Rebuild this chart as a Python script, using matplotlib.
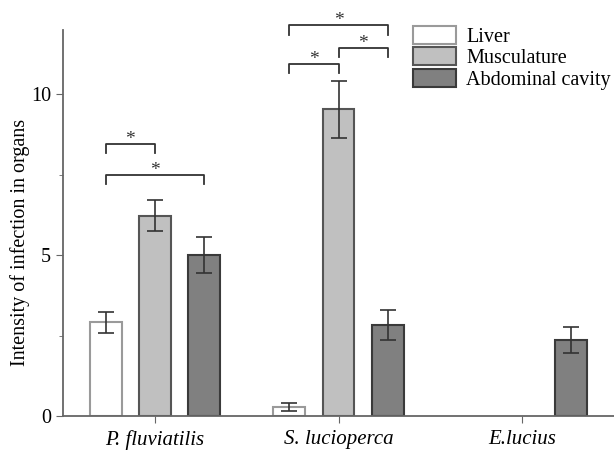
import numpy as np
import matplotlib
matplotlib.use("Agg")
import matplotlib.pyplot as plt

species = ["P. fluviatilis", "S. lucioperca", "E.lucius"]
organs = ["Liver", "Musculature", "Abdominal cavity"]
liver = [2.91, 0.27, 0.0]
liver_err = [0.32, 0.12, 0.0]
muscle = [6.22, 9.53, 0.0]
muscle_err = [0.48, 0.88, 0.0]
cavity = [5.0, 2.82, 2.37]
cavity_err = [0.55, 0.47, 0.41]

# significance brackets: (group, bar_a, bar_b, height)
brackets = [(0, 0, 1, 8.46), (0, 0, 2, 7.49),
            (1, 0, 1, 10.93), (1, 1, 2, 11.43), (1, 0, 2, 12.14)]

plt.rcParams["font.family"] = ["Liberation Serif", "DejaVu Serif"]

fig = plt.figure(figsize=(6.14, 4.53), dpi=100)
ax = fig.add_axes([63 / 614, 37 / 453, 551 / 614, 386 / 453])

x = np.arange(len(species))
off = 0.267
w = 0.174
fills = ["white", "#c0c0c0", "#808080"]
edges = ["#9a9a9a", "#555555", "#3a3a3a"]
vals = [liver, muscle, cavity]
errs = [liver_err, muscle_err, cavity_err]
for i in range(3):
    v = np.array(vals[i])
    e = np.array(errs[i])
    show = v > 0
    ax.bar(x[show] + (i - 1) * off, v[show], w, yerr=e[show], color=fills[i],
           edgecolor=edges[i], linewidth=1.5, label=organs[i],
           error_kw=dict(ecolor="#333333", elinewidth=1.2, capsize=6, capthick=1.2))

for g, a, b, h in brackets:
    xa = g + (a - 1) * off
    xb = g + (b - 1) * off
    ax.plot([xa, xa, xb, xb], [h - 0.28, h, h, h - 0.28], color="#333333",
            lw=1.3, clip_on=False)
    ax.text((xa + xb) / 2, h - 0.12, "*", ha="center", va="bottom",
            fontsize=14, color="#333333", clip_on=False)

ax.set_xlim(-0.5, 2.5)
ax.set_ylim(0, 12)
ax.set_yticks([0, 5, 10])
ax.set_yticks([2.5, 7.5], minor=True)
ax.set_xticks(x)
ax.set_xticklabels(species, style="italic", fontsize=15)
ax.tick_params(axis="y", labelsize=14.5, length=5, color="#666666")
ax.tick_params(axis="y", which="minor", length=3, color="#666666")
ax.tick_params(axis="x", length=5, color="#666666", pad=5)
ax.set_ylabel("Intensity of infection in organs", fontsize=14.5, y=0.45, labelpad=1)
for s in ["top", "right"]:
    ax.spines[s].set_visible(False)
for s in ["left", "bottom"]:
    ax.spines[s].set_color("#666666")
    ax.spines[s].set_linewidth(1.3)

ax.legend(loc="upper left", bbox_to_anchor=(0.635, 1.01), frameon=False,
          fontsize=14.5, handlelength=2.15, handleheight=1.0, labelspacing=0.02,
          handletextpad=0.5, borderaxespad=0, borderpad=0)

fig.savefig("out.png", dpi=100)
